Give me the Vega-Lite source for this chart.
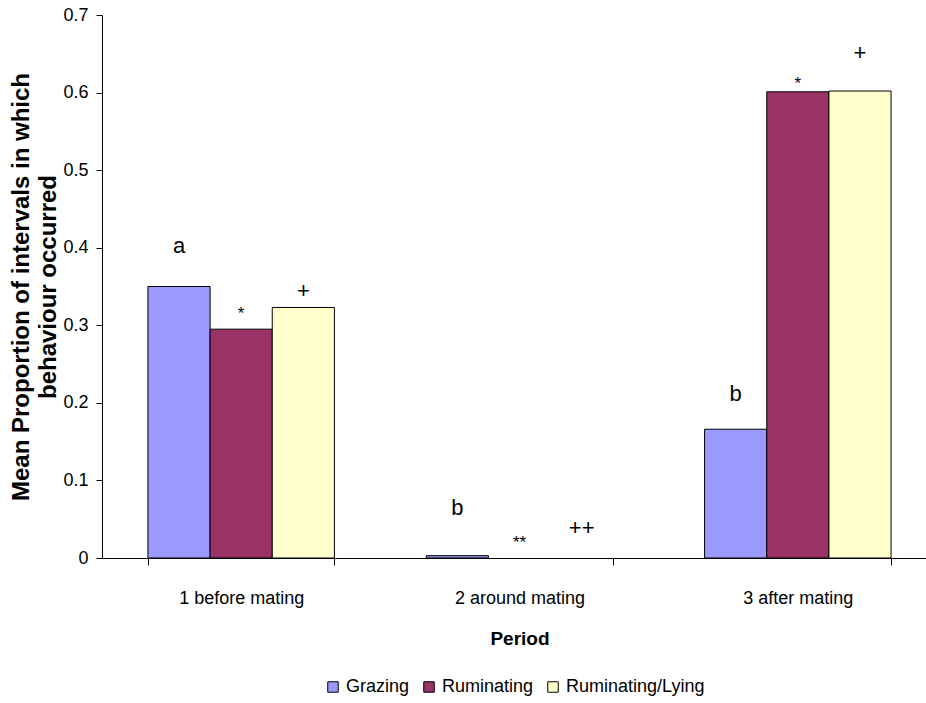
{
  "$schema": "https://vega.github.io/schema/vega-lite/v6.json",
  "width": 824,
  "height": 543,
  "autosize": {"type": "none"},
  "padding": {"left": 102, "top": 15, "right": 0, "bottom": 145},
  "background": "white",
  "config": {
    "view": {"stroke": null},
    "font": "Liberation Sans",
    "axis": {
      "domainColor": "black",
      "tickColor": "black",
      "labelColor": "black",
      "titleColor": "black",
      "grid": false,
      "labelFont": "Liberation Sans",
      "titleFont": "Liberation Sans",
      "labelFontSize": 18,
      "titleFontSize": 19,
      "titleFontWeight": "bold"
    },
    "legend": {
      "layout": {"bottom": {"anchor": "middle"}}
    }
  },
  "datasets": {
    "bars": [
      {"period": "1 before mating", "behaviour": "Grazing", "value": 0.35},
      {"period": "1 before mating", "behaviour": "Ruminating", "value": 0.295},
      {"period": "1 before mating", "behaviour": "Ruminating/Lying", "value": 0.323},
      {"period": "2 around mating", "behaviour": "Grazing", "value": 0.003},
      {"period": "2 around mating", "behaviour": "Ruminating", "value": 0},
      {"period": "2 around mating", "behaviour": "Ruminating/Lying", "value": 0},
      {"period": "3 after mating", "behaviour": "Grazing", "value": 0.166},
      {"period": "3 after mating", "behaviour": "Ruminating", "value": 0.601},
      {"period": "3 after mating", "behaviour": "Ruminating/Lying", "value": 0.602}
    ],
    "notes": [
      {"period": "1 before mating", "behaviour": "Grazing", "note": "a", "at": 0.393, "kind": "letter"},
      {"period": "1 before mating", "behaviour": "Ruminating", "note": "*", "at": 0.308, "kind": "star"},
      {"period": "1 before mating", "behaviour": "Ruminating/Lying", "note": "+", "at": 0.335, "kind": "letter"},
      {"period": "2 around mating", "behaviour": "Grazing", "note": "b", "at": 0.055, "kind": "letter"},
      {"period": "2 around mating", "behaviour": "Ruminating", "note": "**", "at": 0.013, "kind": "star"},
      {"period": "2 around mating", "behaviour": "Ruminating/Lying", "note": "++", "at": 0.03, "kind": "letter"},
      {"period": "3 after mating", "behaviour": "Grazing", "note": "b", "at": 0.202, "kind": "letter"},
      {"period": "3 after mating", "behaviour": "Ruminating", "note": "*", "at": 0.605, "kind": "star"},
      {"period": "3 after mating", "behaviour": "Ruminating/Lying", "note": "+", "at": 0.642, "kind": "letter"}
    ]
  },
  "encoding": {
    "x": {
      "field": "period",
      "type": "nominal",
      "scale": {"rangeMax": 835, "paddingInner": 0.33, "paddingOuter": 0.165},
      "axis": {
        "title": "Period",
        "labelAngle": 0,
        "tickBand": "extent",
        "tickSize": 7,
        "labelPadding": 24,
        "titlePadding": 22
      }
    },
    "xOffset": {
      "field": "behaviour",
      "type": "nominal",
      "scale": {"domain": ["Grazing", "Ruminating", "Ruminating/Lying"], "paddingInner": 0, "paddingOuter": 0}
    }
  },
  "layer": [
    {
      "data": {"name": "bars"},
      "transform": [{"filter": "datum.value > 0"}],
      "mark": {"type": "bar", "stroke": "black", "strokeWidth": 1},
      "encoding": {
        "y": {
          "field": "value",
          "type": "quantitative",
          "scale": {"domain": [0, 0.7], "nice": false},
          "axis": {
            "title": ["Mean Proportion of intervals in which", "behaviour occurred"],
            "titleFontSize": 24,
            "titleLineHeight": 27,
            "titlePadding": 2,
            "values": [0, 0.1, 0.2, 0.3, 0.4, 0.5, 0.6, 0.7],
            "format": ".1~f",
            "tickSize": 6,
            "labelPadding": 8
          }
        },
        "color": {
          "field": "behaviour",
          "type": "nominal",
          "scale": {"domain": ["Grazing", "Ruminating", "Ruminating/Lying"], "range": ["#9999FF", "#993366", "#FFFFCC"]},
          "legend": {
            "title": null,
            "orient": "bottom",
            "direction": "horizontal",
            "symbolType": "square",
            "symbolSize": 110,
            "symbolStrokeColor": "black",
            "symbolStrokeWidth": 1,
            "labelFontSize": 18,
            "labelColor": "black",
            "labelLimit": 300,
            "labelOffset": 4,
            "columnPadding": 10,
            "offset": 30
          }
        }
      }
    },
    {
      "data": {"name": "notes"},
      "transform": [{"filter": "datum.kind === 'letter'"}],
      "mark": {"type": "text", "baseline": "alphabetic", "align": "center", "fontSize": 22, "color": "black"},
      "encoding": {
        "y": {"field": "at", "type": "quantitative"},
        "text": {"field": "note"}
      }
    },
    {
      "data": {"name": "notes"},
      "transform": [{"filter": "datum.kind === 'star'"}],
      "mark": {"type": "text", "baseline": "alphabetic", "align": "center", "fontSize": 17, "color": "black"},
      "encoding": {
        "y": {"field": "at", "type": "quantitative"},
        "text": {"field": "note"}
      }
    }
  ]
}
